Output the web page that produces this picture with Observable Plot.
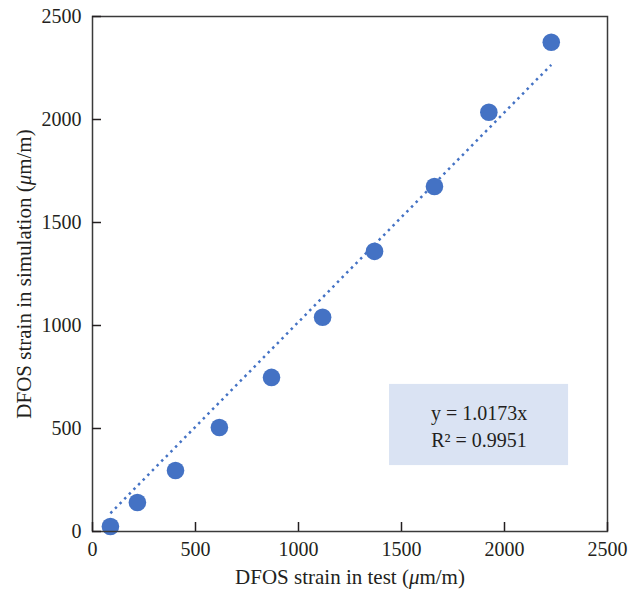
<!DOCTYPE html>
<html><head><meta charset="utf-8">
<script src="https://cdn.jsdelivr.net/npm/d3@7"></script>
<script src="https://cdn.jsdelivr.net/npm/@observablehq/plot@0.6"></script>
<style>html,body{margin:0;padding:0;background:#fff}</style>
</head><body><div id="chart"></div>
<script>
// Data
const testStrain = [87, 218, 403, 616, 869, 1117, 1369, 1660, 1924, 2227];
const simStrain  = [24, 141, 296, 505, 748, 1040, 1360, 1675, 2035, 2375];
const xTicks = [0, 500, 1000, 1500, 2000, 2500];
const yTicks = [0, 500, 1000, 1500, 2000, 2500];
const slope = 1.0173;
const eqLines = ["y = 1.0173x", "R² = 0.9951"];
const xLabel = "DFOS strain in test (μm/m)";
const yLabel = "DFOS strain in simulation (μm/m)";
// annotation box extent (data units)
const boxX = [1442, 2311];
const boxY = [320, 714];

const points = testStrain.map((x, i) => ({x, y: simStrain[i]}));
const trend = [d3.min(testStrain), d3.max(testStrain)].map(x => ({x, y: slope * x}));

const blue = "#4472c4";
const ink = "#231f20";
const font = "'Liberation Serif', 'Times New Roman', serif";

const chart = Plot.plot({
  width: 629, height: 590,
  marginLeft: 92, marginRight: 22, marginTop: 16, marginBottom: 59,
  style: {fontFamily: font, fontSize: "20px", color: ink, background: "#fff", overflow: "visible"},
  x: {domain: [0, 2500]},
  y: {domain: [0, 2500]},
  marks: [
    Plot.rect([0], {x1: boxX[0], x2: boxX[1], y1: boxY[0], y2: boxY[1], fill: "#dae3f3"}),
    Plot.text([eqLines.join("\n")], {x: d3.mean(boxX), y: d3.mean(boxY), lineHeight: 1.35, fontSize: 20, fill: ink}),
    Plot.line(trend, {x: "x", y: "y", stroke: blue, strokeWidth: 2.5, strokeDasharray: "2.5,4.1", strokeLinecap: "butt"}),
    Plot.dot(points, {x: "x", y: "y", r: 8.8, fill: blue}),
    Plot.frame({stroke: "#3a3a3a", strokeWidth: 1.5}),
    Plot.axisX({ticks: xTicks, tickSize: 9, dy: -9, tickFormat: () => "", label: null, strokeWidth: 1.5}),
    Plot.axisX({ticks: xTicks, tickSize: 0, tickPadding: 10, tickFormat: d => String(d), label: null, fontSize: 20}),
    Plot.axisY({ticks: yTicks, tickSize: 9, dx: 9, tickFormat: () => "", label: null, strokeWidth: 1.5}),
    Plot.axisY({ticks: yTicks, tickSize: 0, tickPadding: 11, tickFormat: d => String(d), label: null, fontSize: 20}),
    Plot.text([xLabel], {frameAnchor: "bottom", lineAnchor: "bottom", textAnchor: "middle", dy: 52, fontSize: 21, fill: ink}),
    Plot.text([yLabel], {frameAnchor: "left", lineAnchor: "bottom", textAnchor: "middle", rotate: -90, dx: -62, fontSize: 21, fill: ink})
  ]
});

// italicize the Greek mu in axis titles
d3.select(chart).selectAll("text, tspan").each(function() {
  const el = this;
  Array.from(el.childNodes).forEach(node => {
    if (node.nodeType === 3 && node.nodeValue.includes("μ")) {
      const parts = node.nodeValue.split("μ");
      const frag = document.createDocumentFragment();
      parts.forEach((p, i) => {
        if (i > 0) {
          const t = document.createElementNS("http://www.w3.org/2000/svg", "tspan");
          t.setAttribute("font-style", "italic");
          t.textContent = "μ";
          frag.appendChild(t);
        }
        frag.appendChild(document.createTextNode(p));
      });
      el.replaceChild(frag, node);
    }
  });
});

document.getElementById("chart").appendChild(chart);
</script>
</body></html>
